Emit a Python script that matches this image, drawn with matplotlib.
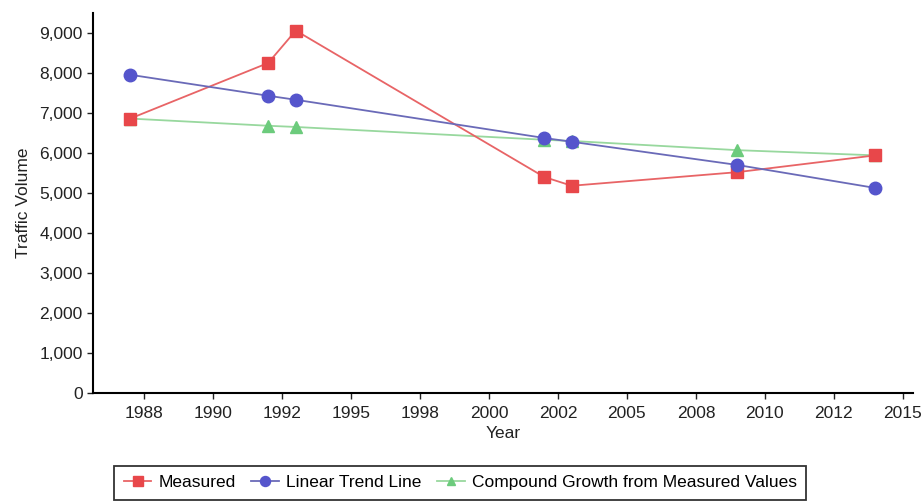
import matplotlib
matplotlib.use("Agg")
import matplotlib.pyplot as plt

plt.rcParams['font.family'] = ['Liberation Sans', 'DejaVu Sans']

years = [1987, 1992, 1993, 2002, 2003, 2009, 2014]
measured = [6870, 8260, 9070, 5410, 5190, 5530, 5950]
linear_trend = [7965, 7440, 7340, 6385, 6290, 5710, 5135]
compound = [6870, 6690, 6660, 6340, 6310, 6080, 5950]

tick_pos = [1987.5 + 2.5 * i for i in range(12)]
tick_labels = ["1988", "1990", "1992", "1995", "1998", "2000",
               "2002", "2005", "2008", "2010", "2012", "2015"]
y_ticks = list(range(0, 10000, 1000))

fig = plt.figure(figsize=(9.24, 5.03), dpi=100)
ax = fig.add_axes([0.1006, 0.218, 0.887, 0.757])

ax.plot(years, measured, color="#E86466", lw=1.3, marker="s", ms=9,
        mfc="#E8474A", mec="#E8474A", label="Measured", zorder=3)
ax.plot(years, linear_trend, color="#6a6ab8", lw=1.3, marker="o", ms=9,
        mfc="#5555CC", mec="#5555CC", label="Linear Trend Line", zorder=3)
ax.plot(years, compound, color="#98D89E", lw=1.3, marker="^", ms=8,
        mfc="#6CCB7C", mec="#6CCB7C", label="Compound Growth from Measured Values", zorder=2)

ax.set_xlim(1985.65, 2015.35)
ax.set_ylim(0, 9520)
ax.set_xticks(tick_pos)
ax.set_xticklabels(tick_labels)
ax.set_yticks(y_ticks)
ax.set_yticklabels([f"{v:,}" for v in y_ticks])
ax.tick_params(axis='both', labelsize=12.5, colors='#222222', length=4, width=1)
ax.tick_params(axis='x', pad=5)
ax.spines['top'].set_visible(False)
ax.spines['right'].set_visible(False)
ax.spines['left'].set_linewidth(1.5)
ax.spines['bottom'].set_linewidth(1.5)
ax.set_xlabel("Year", fontsize=12.5, color='#222222', labelpad=4)
ax.set_ylabel("Traffic Volume", fontsize=12.5, color='#222222', labelpad=6)

leg = fig.legend(loc='center', bbox_to_anchor=(0.498, 0.04), ncol=3,
                 fontsize=12.5, frameon=True, fancybox=False, edgecolor='black',
                 handlelength=1.6, handletextpad=0.4, columnspacing=0.9,
                 borderpad=0.55, markerscale=0.8)
leg.get_frame().set_linewidth(1.3)

fig.savefig("out.png", dpi=100)
